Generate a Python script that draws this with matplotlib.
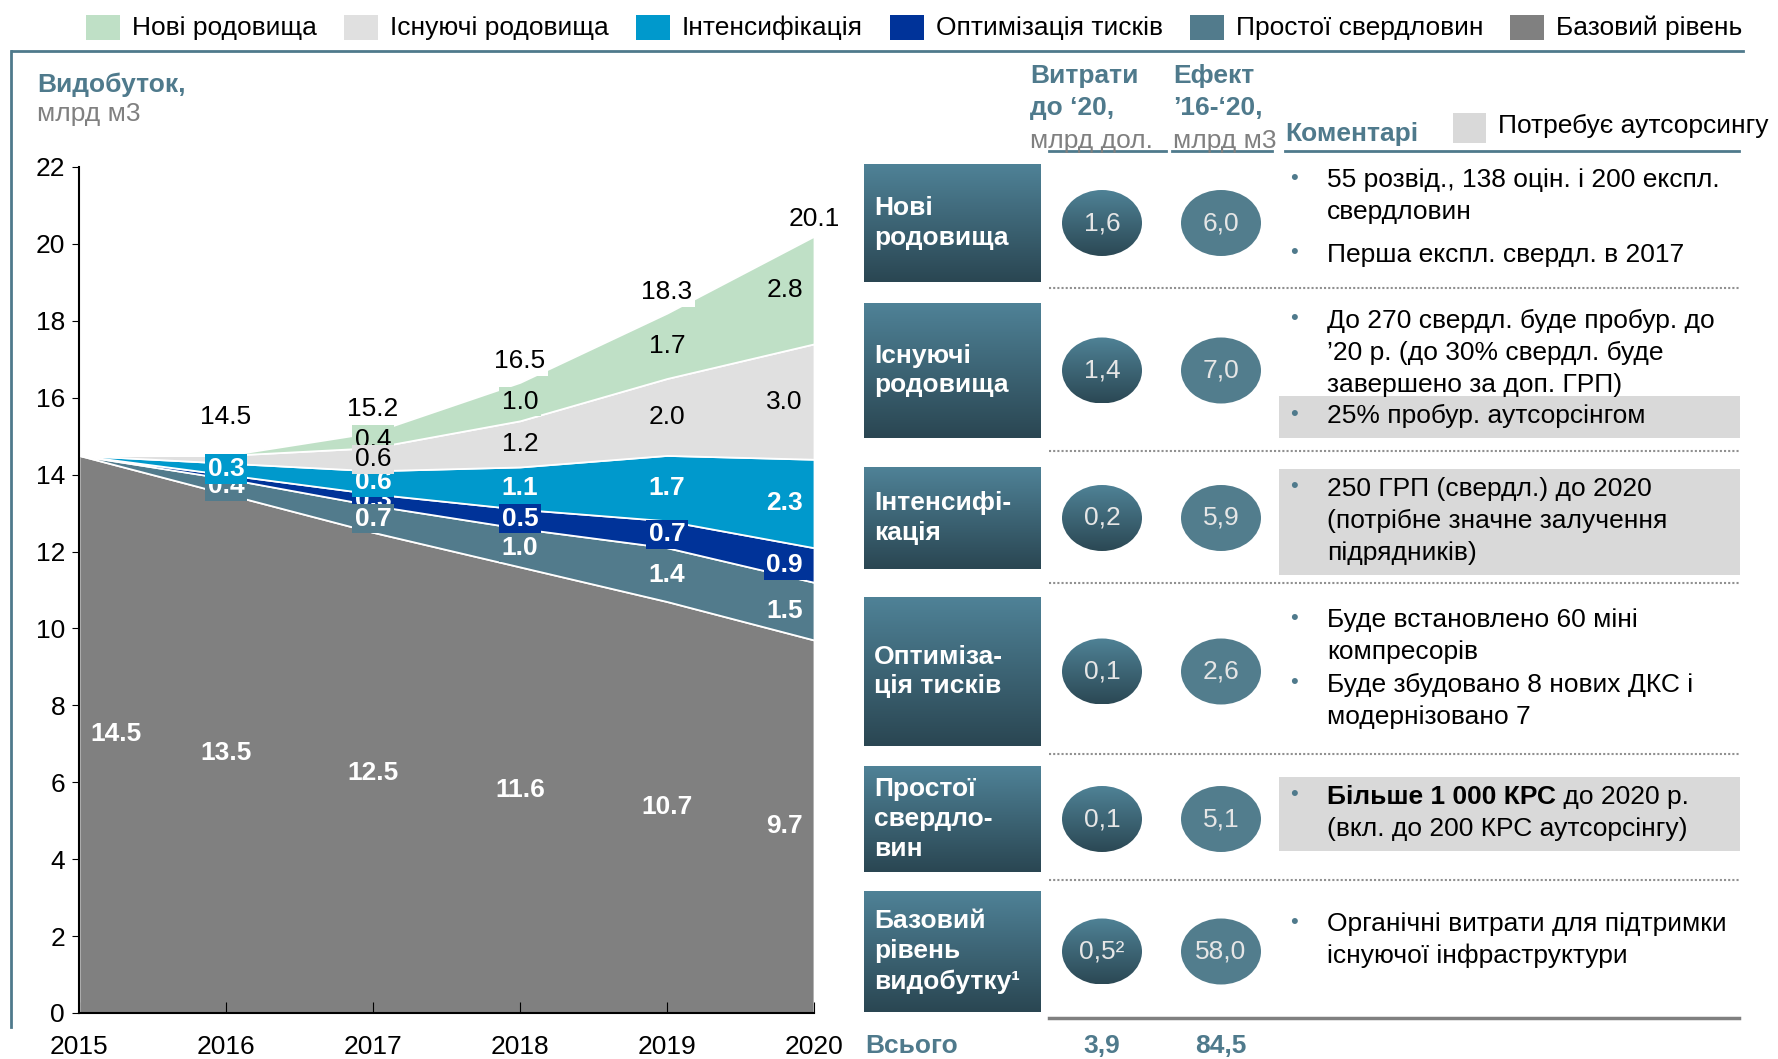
import numpy as np
import matplotlib
matplotlib.use("Agg")
import matplotlib.pyplot as plt
from matplotlib.patches import Rectangle, Ellipse
from matplotlib.colors import LinearSegmentedColormap

plt.rcParams['font.family'] = ['Liberation Sans', 'DejaVu Sans']

# ============================
# Data
# ============================
years = [2015, 2016, 2017, 2018, 2019, 2020]
base = [14.5, 13.5, 12.5, 11.6, 10.7, 9.7]
downtime = [0.0, 0.4, 0.7, 1.0, 1.4, 1.5]
pressure = [0.0, 0.1, 0.3, 0.5, 0.7, 0.9]
intensif = [0.0, 0.3, 0.6, 1.1, 1.7, 2.3]
existing = [0.0, 0.2, 0.6, 1.2, 2.0, 3.0]
new_fields = [0.0, 0.0, 0.4, 1.0, 1.7, 2.8]
totals = [None, 14.5, 15.2, 16.5, 18.3, 20.1]

legend_names = ["Нові родовища", "Існуючі родовища", "Інтенсифікація",
                "Оптимізація тисків", "Простої свердловин", "Базовий рівень"]

row_titles = ["Нові\nродовища", "Існуючі\nродовища", "Інтенсифі-\nкація",
              "Оптиміза-\nція тисків", "Простої\nсвердло-\nвин",
              "Базовий\nрівень\nвидобутку¹"]
costs = ["1,6", "1,4", "0,2", "0,1", "0,1", "0,5²"]
effects = ["6,0", "7,0", "5,9", "2,6", "5,1", "58,0"]
total_cost = "3,9"
total_effect = "84,5"

comments = [
    [["55 розвід., 138 оцін. і 200 експл.", "свердловин"],
     ["Перша експл. свердл. в 2017"]],
    [["До 270 свердл. буде пробур. до", "’20 р. (до 30% свердл. буде",
      "завершено за доп. ГРП)"],
     ["25% пробур. аутсорсінгом"]],
    [["250 ГРП (свердл.) до 2020", "(потрібне значне залучення",
      "підрядників)"]],
    [["Буде встановлено 60 міні", "компресорів"],
     ["Буде збудовано 8 нових ДКС і", "модернізовано 7"]],
    [["**Більше 1 000 КРС** до 2020 р.", "(вкл. до 200 КРС аутсорсінгу)"]],
    [["Органічні витрати для підтримки", "існуючої інфраструктури"]],
]
outsourced = [[False, False], [False, True], [True], [False, False], [True], [False]]

# ============================
# Styles / layout (pixel coords of the 1778x1059 canvas)
# ============================
c_new, c_exist, c_int = '#bfe0c6', '#e0e0e0', '#0099cc'
c_press, c_down, c_base = '#003399', '#527b8c', '#808080'
layer_colors = [c_base, c_down, c_press, c_int, c_exist, c_new]
legend_colors = [c_new, c_exist, c_int, c_press, c_down, c_base]
steel = '#4f7a8c'
grey_txt = '#808080'
FS = 19

box_top = [164, 303, 467, 597, 766, 891]
box_bot = [282, 438, 569, 746, 872, 1012]
bullet_y = [[180, 255], [321, 416], [489], [620, 685], [797], [924]]
sep_y = [288, 451, 583, 754, 880]
line_h = 32
total_offset = [0, 1.0, 0.6, 0.55, 0.55, 0.45]   # label lift above stack top

fig = plt.figure(figsize=(17.78, 10.59), dpi=100)

# ============================
# Stacked area chart
# ============================
ax = fig.add_axes([79 / 1778, 46 / 1059, 735 / 1778, 846 / 1059])
layers = [base, downtime, pressure, intensif, existing, new_fields]
ax.stackplot(years, *layers, colors=layer_colors, edgecolor='white', linewidth=1.3)
ax.set_xlim(2015, 2020)
ax.set_ylim(0, 22)
ax.set_yticks(range(0, 23, 2))
ax.set_xticks(years)
ax.tick_params(axis='x', direction='in', length=8, pad=16, labelsize=FS)
ax.tick_params(axis='y', direction='out', length=5, pad=5, labelsize=FS)
for s in ['top', 'right']:
    ax.spines[s].set_visible(False)
for s in ['left', 'bottom']:
    ax.spines[s].set_linewidth(1.5)
    ax.spines[s].set_zorder(10)

cum = np.vstack([np.zeros(len(years)), np.cumsum(layers, axis=0)])
label_x = np.clip(years, 2015.25, 2019.8)
zorders = [5, 6, 4, 7, 8, 4]
for i, layer in enumerate(layers):
    white = i < 4
    for j, v in enumerate(layer):
        if v < 0.3:
            continue
        y = v / 2 if i == 0 else (cum[i][j] + cum[i + 1][j]) / 2
        ax.text(label_x[j], y, f"{v:.1f}", ha='center', va='center', fontsize=FS,
                color='white' if white else 'black',
                fontweight='bold' if white else 'normal', zorder=zorders[i],
                bbox=dict(boxstyle='square,pad=0.1', fc=layer_colors[i], ec='none'))
for j, t in enumerate(totals):
    if t is None:
        continue
    ax.text(years[j], cum[-1][j] + total_offset[j], f"{t:.1f}", ha='center', va='center',
            fontsize=FS, color='black', zorder=9,
            bbox=dict(boxstyle='square,pad=0.1', fc='white', ec='none'))

# ============================
# Overlay in pixel coordinates
# ============================
ov = fig.add_axes([0, 0, 1, 1], zorder=20)
ov.set_xlim(0, 1778)
ov.set_ylim(1059, 0)
ov.axis('off')
ov.patch.set_visible(False)

# frame lines
ov.plot([12, 1743], [51, 51], color=steel, lw=2)
ov.plot([11, 11], [51, 1027], color=steel, lw=2)

# y-axis title
ov.text(37, 85, "Видобуток,", fontsize=FS, fontweight='bold', color=steel, va='center')
ov.text(37, 114, "млрд м3", fontsize=FS, color=grey_txt, va='center')

# legend
renderer = fig.canvas.get_renderer()
x = 86
for name, col in zip(legend_names, legend_colors):
    ov.add_patch(Rectangle((x, 15), 34, 25, fc=col, ec='none'))
    t = ov.text(x + 46, 28, name, fontsize=FS, va='center', color='black')
    x += 46 + t.get_window_extent(renderer).width + 27

# headers
for hx, lines in [(1030, ["Витрати", "до ‘20,"]), (1173, ["Ефект", "’16-‘20,"])]:
    ov.text(hx, 76, lines[0], fontsize=FS, fontweight='bold', color=steel, va='center')
    ov.text(hx, 108, lines[1], fontsize=FS, fontweight='bold', color=steel, va='center')
ov.text(1030, 141, "млрд дол.", fontsize=FS, color=grey_txt, va='center')
ov.text(1173, 141, "млрд м3", fontsize=FS, color=grey_txt, va='center')
ov.text(1285, 134, "Коментарі", fontsize=FS, fontweight='bold', color=steel, va='center')
ov.add_patch(Rectangle((1453, 113), 33, 30, fc='#d9d9d9', ec='none'))
ov.text(1498, 126, "Потребує аутсорсингу", fontsize=FS, color='black', va='center')
for x0, x1 in [(1049, 1166), (1172, 1272), (1285, 1739)]:
    ov.plot([x0, x1], [151, 151], color=steel, lw=2)

box_cmap = LinearSegmentedColormap.from_list('box', ['#4f8297', '#2a4652'])
circ_cmap = LinearSegmentedColormap.from_list('circ', ['#4f8296', '#2b4854'])
grad = np.linspace(0, 1, 256).reshape(-1, 1)

for r in range(len(row_titles)):
    y0, y1 = box_top[r], box_bot[r]
    yc = (y0 + y1) / 2
    ov.imshow(grad, cmap=box_cmap, extent=(864, 1041, y1, y0), origin='upper',
              aspect='auto', zorder=1)
    ov.text(874, yc, row_titles[r], fontsize=FS, fontweight='bold', color='white',
            va='center', ha='left', linespacing=1.3, zorder=3)

    # circles
    ell = Ellipse((1102, yc), 80, 66, fc='none', ec='none')
    ov.add_patch(ell)
    im = ov.imshow(grad, cmap=circ_cmap, extent=(1062, 1142, yc + 33, yc - 33),
                   origin='upper', aspect='auto', zorder=2)
    im.set_clip_path(ell)
    ov.add_patch(Ellipse((1221, yc), 80, 66, fc='#527d8d', ec='none', zorder=2))
    ov.text(1102, yc, costs[r], fontsize=FS, color='#e6e6e6', ha='center', va='center', zorder=3)
    ov.text(1221, yc, effects[r], fontsize=FS, color='#e6e6e6', ha='center', va='center', zorder=3)

    # comments
    for b, lines in enumerate(comments[r]):
        by = bullet_y[r][b]
        if outsourced[r][b]:
            ov.add_patch(Rectangle((1279, by - 20), 461, (len(lines) - 1) * line_h + 42,
                                   fc='#d9d9d9', ec='none', zorder=1))
        ov.text(1290, by - 2, "•", fontsize=FS - 3, color=steel, va='center', zorder=3)
        for k, line in enumerate(lines):
            ly = by + k * line_h
            if line.startswith("**"):
                bold_part, rest = line[2:].split("**")
                t = ov.text(1327, ly, bold_part, fontsize=FS, fontweight='bold',
                            va='center', zorder=3)
                ov.annotate(rest, xy=(1, 0.5), xycoords=t, va='center', ha='left',
                            fontsize=FS, zorder=3)
            else:
                ov.text(1327, ly, line, fontsize=FS, va='center', zorder=3)

for y in sep_y:
    ov.plot([1049, 1739], [y, y], color='#909090', lw=1.5, ls=(0, (1, 1)))
ov.plot([1049, 1739], [1018, 1018], color='#808080', lw=2.5)

ov.text(865, 1046, "Всього", fontsize=FS, fontweight='bold', color=steel, va='center')
ov.text(1102, 1046, total_cost, fontsize=FS, fontweight='bold', color=steel, va='center', ha='center')
ov.text(1221, 1046, total_effect, fontsize=FS, fontweight='bold', color=steel, va='center', ha='center')

ov.set_xlim(0, 1778)
ov.set_ylim(1059, 0)

fig.savefig('out.png', dpi=100)
